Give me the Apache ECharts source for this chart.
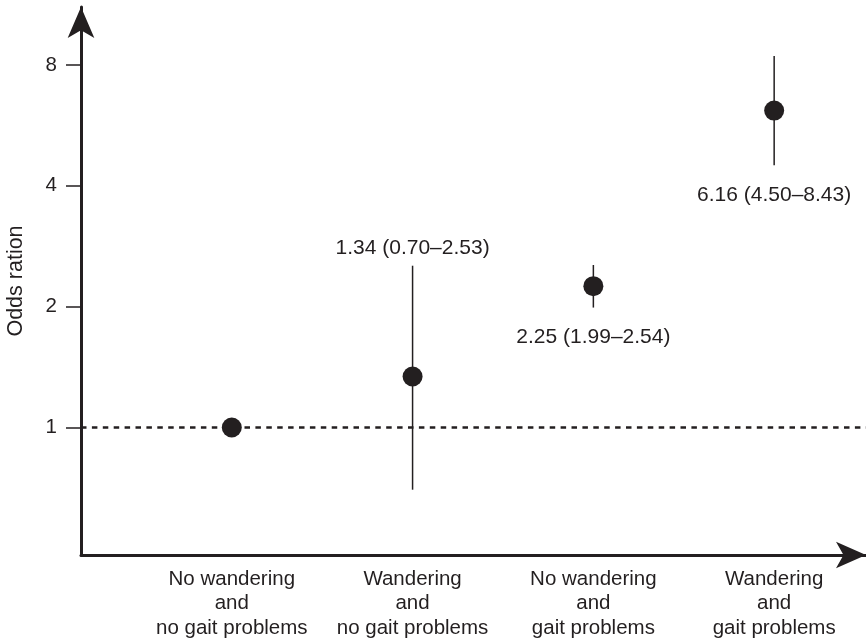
<!DOCTYPE html>
<html>
<head>
<meta charset="utf-8">
<script src="https://cdn.jsdelivr.net/npm/echarts@6/dist/echarts.min.js"></script>
<style>
  html, body { margin: 0; padding: 0; background: #fff; }
  #chart { width: 866px; height: 644px; }
</style>
</head>
<body>
<div id="chart"></div>
<script>
// Groups on the horizontal axis
const categories = [
  'No wandering\nand\nno gait problems',
  'Wandering\nand\nno gait problems',
  'No wandering\nand\ngait problems',
  'Wandering\nand\ngait problems'
];
// Odds ratios with 95% confidence intervals (reference group has none)
const oddsRatio = [1, 1.34, 2.25, 6.16];
const ciLower = [null, 0.70, 1.99, 4.50];
const ciUpper = [null, 2.53, 2.54, 8.43];
// Labelled ticks on the log2 odds-ratio axis
const yTicks = [1, 2, 4, 8];

const INK = '#231f20';
const FONT = '"Liberation Sans", Arial, Helvetica, sans-serif';
const FS = 20.5;
const FS_VALUE = 21;
// interval labels that sit above the upper whisker; the rest go below the lower one
const labelAbove = [false, true, false, false];

function fmt(v) { return v.toFixed(2); }

const chart = echarts.init(document.getElementById('chart'), null, { renderer: 'canvas' });

const option = {
  animation: false,
  backgroundColor: '#fff',
  textStyle: { fontFamily: FONT, color: INK },
  grid: [
    // plotting area framed by the two arrowed axes
    { left: 81, right: 0, top: 7, bottom: 89, outerBoundsMode: 'none', containLabel: false },
    // tick strip spanning 1..8 on the same log scale
    { left: 81, right: 0, top: 65, bottom: 216.5, outerBoundsMode: 'none', containLabel: false }
  ],
  xAxis: [
    {
      gridIndex: 0,
      type: 'value',
      min: -0.834,
      max: 3.508,
      splitLine: { show: false },
      axisTick: { show: false },
      axisLine: {
        onZero: false,
        lineStyle: { color: INK, width: 3 },
        symbol: ['none', 'arrow'],
        symbolSize: [20, 30]
      },
      axisLabel: {
        customValues: categories.map((_, i) => i),
        formatter: v => categories[Math.round(v)],
        color: INK,
        fontFamily: FONT,
        fontSize: FS,
        lineHeight: 24.5,
        margin: 12
      }
    },
    { gridIndex: 1, type: 'value', min: 0, max: 1, show: false }
  ],
  yAxis: [
    {
      gridIndex: 0,
      type: 'log',
      logBase: 2,
      min: 0.4813,
      max: 11.16,
      splitLine: { show: false },
      axisTick: { show: false },
      axisLabel: { show: false },
      axisLine: {
        onZero: false,
        lineStyle: { color: INK, width: 3 },
        symbol: ['none', 'arrow'],
        symbolSize: [20, 31]
      },
      name: 'Odds ration',
      nameLocation: 'middle',
      nameRotate: 90,
      nameGap: 54,
      nameTextStyle: { color: INK, fontFamily: FONT, fontSize: 21.5 }
    },
    {
      gridIndex: 1,
      type: 'log',
      logBase: 2,
      min: yTicks[0],
      max: yTicks[yTicks.length - 1],
      splitLine: { show: false },
      axisLine: { show: false, onZero: false },
      axisTick: { show: true, length: 15, lineStyle: { color: INK, width: 1.5 } },
      axisLabel: { color: INK, fontFamily: FONT, fontSize: FS, margin: 24 }
    }
  ],
  series: [
    {
      // reference line at odds ratio 1
      type: 'line',
      xAxisIndex: 0,
      yAxisIndex: 0,
      data: [],
      markLine: {
        silent: true,
        symbol: ['none', 'none'],
        label: { show: false },
        lineStyle: { color: INK, width: 2.5, type: [5.5, 5.4] },
        data: [{ yAxis: 1 }]
      }
    },
    {
      type: 'custom',
      xAxisIndex: 0,
      yAxisIndex: 0,
      z: 10,
      data: oddsRatio.map((v, i) => [i, v]),
      renderItem: function (params, api) {
        const i = params.dataIndex;
        const c = api.coord([api.value(0), api.value(1)]);
        const children = [];
        if (ciLower[i] != null) {
          const lo = api.coord([i, ciLower[i]]);
          const hi = api.coord([i, ciUpper[i]]);
          children.push({
            type: 'line',
            shape: { x1: lo[0], y1: lo[1], x2: hi[0], y2: hi[1] },
            style: { stroke: INK, lineWidth: 1.5 }
          });
          const above = labelAbove[i];
          children.push({
            type: 'text',
            x: c[0],
            y: above ? hi[1] - 18 : lo[1] + 30,
            style: {
              text: fmt(oddsRatio[i]) + ' (' + fmt(ciLower[i]) + '\u2013' + fmt(ciUpper[i]) + ')',
              fill: INK,
              font: FS_VALUE + 'px ' + FONT,
              align: 'center',
              verticalAlign: 'middle'
            }
          });
        }
        children.push({
          type: 'circle',
          shape: { cx: c[0], cy: c[1], r: 10 },
          style: { fill: INK }
        });
        return { type: 'group', children: children };
      }
    }
  ]
};

chart.setOption(option);
</script>
</body>
</html>
